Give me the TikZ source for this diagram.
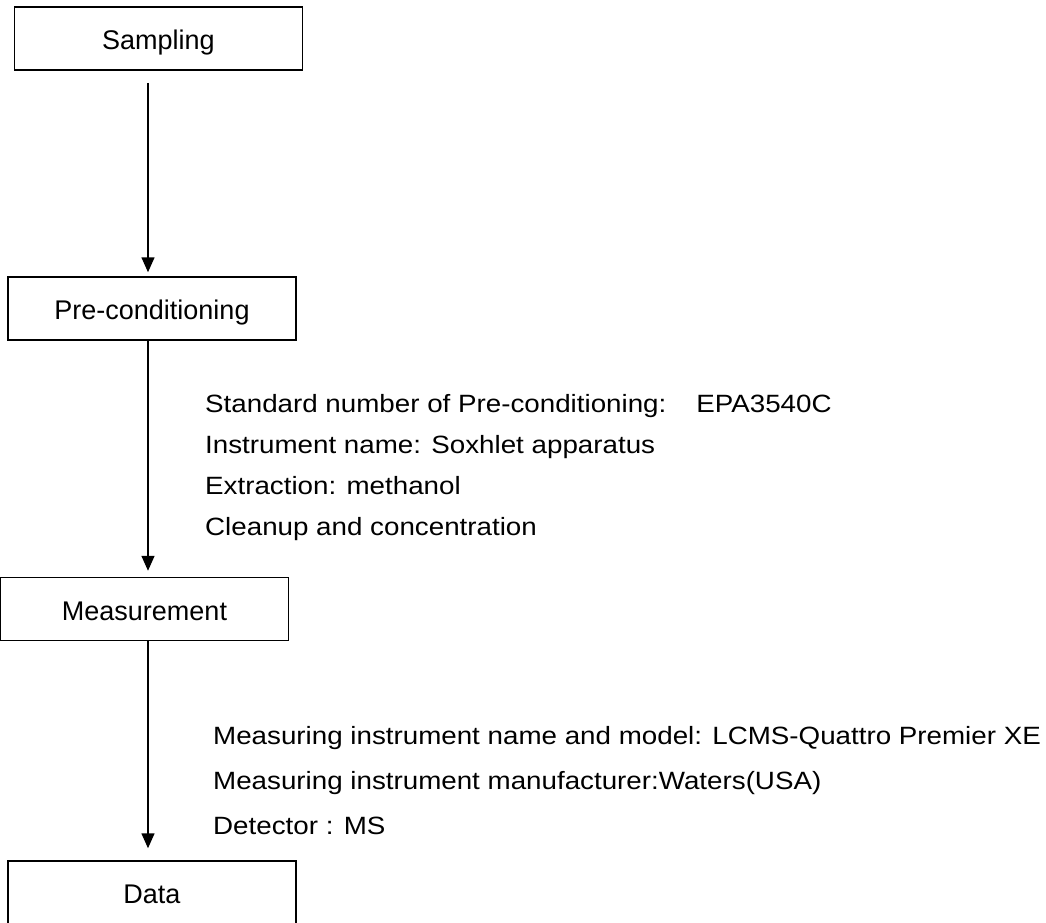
\documentclass[tikz,border=0pt]{standalone}
\usepackage{fontspec}
\setmainfont{Liberation Sans}
\newfontfamily\notefont[FakeStretch=1.11]{Liberation Sans}
\usetikzlibrary{arrows.meta}

\tikzset{
    stagebox/.style={draw, line width=1.5pt, minimum width=288pt, minimum height=63pt,
        inner sep=0pt, text height=22pt, text depth=0pt, font=\fontsize{27}{32}\selectfont},
    notetext/.style={anchor=base west, inner sep=0pt, font=\notefont\fontsize{25}{30}\selectfont},
    flow/.style={line width=1.5pt, -{Triangle[width=13pt,length=15pt]}}
}

\begin{document}
\begin{tikzpicture}[x=1pt, y=-1pt]
\useasboundingbox (0,0) rectangle (1046,922);
%%   kw   (name)   (x, y)   {text}
    \node[stagebox] (sampling) at (158.5, 38.5) {Sampling};
    \node[stagebox] (pre) at (152, 308.5) {Pre-conditioning};
    \node[stagebox] (meas) at (144.5, 609) {Measurement};
    \node[stagebox] (data) at (152, 892.5) {Data};
    \coordinate (axis) at (148, 0);

    \draw[flow, shorten <=12pt, shorten >=4pt] (axis |- sampling.south) -- (axis |- pre.north);
    \draw[flow, shorten >=6pt] (axis |- pre.south) -- (axis |- meas.north);
    \draw[flow, shorten >=12pt] (axis |- meas.south) -- (axis |- data.north);

    \node[notetext] (std) at (205, 412) {Standard number of Pre-conditioning:\hspace{30pt}EPA3540C};
    \node[notetext] (inst) at (205, 453) {Instrument name: Soxhlet apparatus};
    \node[notetext] (extr) at (205, 494) {Extraction: methanol};
    \node[notetext] (clean) at (205, 535) {Cleanup and concentration};

    \node[notetext] (model) at (213, 744) {Measuring instrument name and model: LCMS-Quattro Premier XE};
    \node[notetext] (maker) at (213, 789) {Measuring instrument manufacturer:Waters(USA)};
    \node[notetext] (det) at (213, 834) {Detector : MS};
\end{tikzpicture}
\end{document}
